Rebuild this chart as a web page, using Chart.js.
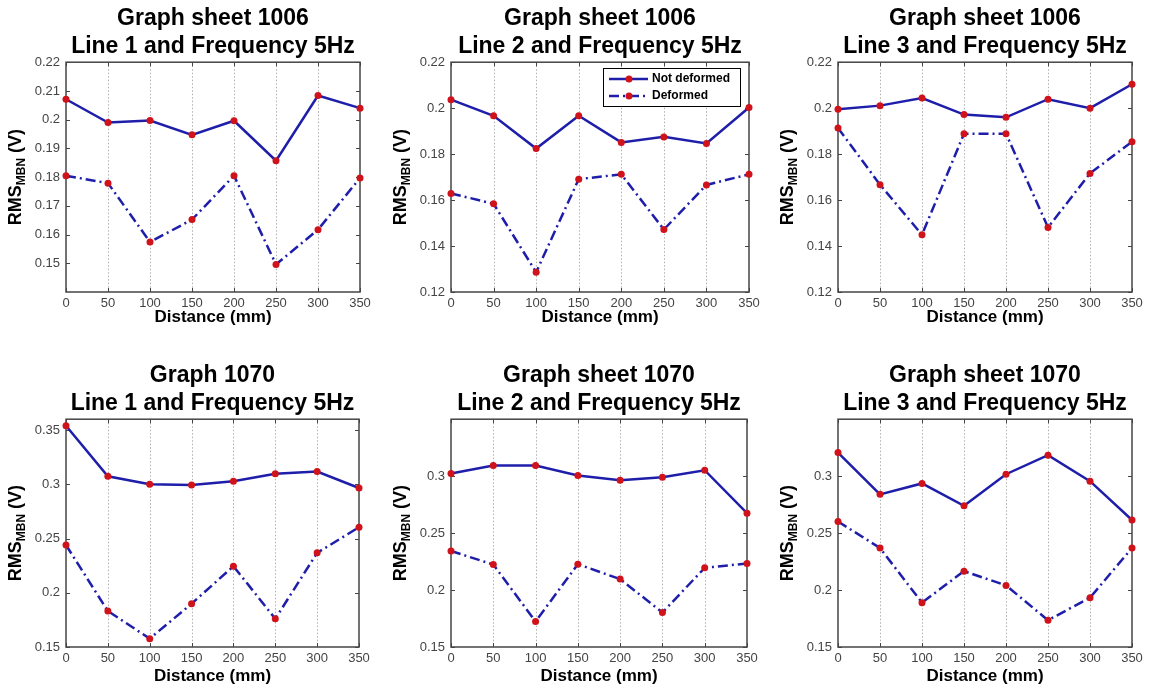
<!DOCTYPE html>
<html>
<head>
<meta charset="utf-8">
<script src="https://cdn.jsdelivr.net/npm/chart.js@4.4.1/dist/chart.umd.min.js"></script>
<style>
  html, body { margin: 0; padding: 0; background: #fff; }
  #pagina { position: relative; width: 1152px; height: 692px; overflow: hidden; }
  #pagina canvas { position: absolute; }
</style>
</head>
<body>
<div id="pagina"></div>
<script>
// dados (RMS do MBN em volts, por distancia em mm)
const distancias = [0, 50, 100, 150, 200, 250, 300, 350];

const s1006L1NaoDeformado = [0.2071, 0.1990, 0.1997, 0.1947, 0.1996, 0.1857, 0.2084, 0.2040];
const s1006L1Deformado    = [0.1805, 0.1779, 0.1574, 0.1652, 0.1805, 0.1496, 0.1617, 0.1797];
const s1006L2NaoDeformado = [0.2037, 0.1967, 0.1824, 0.1967, 0.1851, 0.1875, 0.1846, 0.2003];
const s1006L2Deformado    = [0.1629, 0.1584, 0.1286, 0.1691, 0.1712, 0.1472, 0.1666, 0.1712];
const s1006L3NaoDeformado = [0.1995, 0.2011, 0.2044, 0.1972, 0.1960, 0.2039, 0.2000, 0.2104];
const s1006L3Deformado    = [0.1914, 0.1667, 0.1449, 0.1889, 0.1889, 0.1481, 0.1716, 0.1854];

const s1070L1NaoDeformado = [0.3540, 0.3074, 0.3000, 0.2994, 0.3028, 0.3098, 0.3117, 0.2966];
const s1070L1Deformado    = [0.2440, 0.1831, 0.1577, 0.1899, 0.2245, 0.1760, 0.2368, 0.2604];
const s1070L2NaoDeformado = [0.3023, 0.3093, 0.3093, 0.3006, 0.2965, 0.2991, 0.3052, 0.2675];
const s1070L2Deformado    = [0.2343, 0.2224, 0.1724, 0.2227, 0.2096, 0.1803, 0.2195, 0.2233];
const s1070L3NaoDeformado = [0.3207, 0.2840, 0.2936, 0.2740, 0.3017, 0.3184, 0.2956, 0.2615];
const s1070L3Deformado    = [0.2602, 0.2369, 0.1889, 0.2166, 0.2041, 0.1735, 0.1933, 0.2369];

// marcas do eixo y
const ticksY1006L1 = [0.15, 0.16, 0.17, 0.18, 0.19, 0.2, 0.21, 0.22];
const ticksY1006   = [0.12, 0.14, 0.16, 0.18, 0.2, 0.22];
const ticksY1070L1 = [0.15, 0.2, 0.25, 0.3, 0.35];
const ticksY1070   = [0.15, 0.2, 0.25, 0.3];

const rotulos = ['Not deformed', 'Deformed'];
const tituloX = 'Distance (mm)';
const tituloY = ['RMS', 'MBN', ' (V)'];

const FONTE = '"Liberation Sans", Arial, Helvetica, sans-serif';
const AZUL = '#1e1eaa';
const VERMELHO = '#d0121b';

// cada linha de graficos tem seu proprio espacamento
const linhas = [
  { topo: 0,   altura: 335, tituloTopo: 5,  tituloBase: 2, alturaX: 43, tituloXBase: 7 },
  { topo: 335, altura: 357, tituloTopo: 27, tituloBase: 2, alturaX: 45, tituloXBase: 5 }
];

const paineis = [
  { linha: 0, esq: 0,   larg: 385, dir: 25, titulo: ['Graph sheet 1006', 'Line 1 and Frequency 5Hz'],
    min: 0.14, max: 0.22, ticks: ticksY1006L1, nd: s1006L1NaoDeformado, d: s1006L1Deformado },
  { linha: 0, esq: 385, larg: 387, dir: 23, titulo: ['Graph sheet 1006', 'Line 2 and Frequency 5Hz'],
    min: 0.12, max: 0.22, ticks: ticksY1006, nd: s1006L2NaoDeformado, d: s1006L2Deformado, legenda: true },
  { linha: 0, esq: 772, larg: 380, dir: 20, titulo: ['Graph sheet 1006', 'Line 3 and Frequency 5Hz'],
    min: 0.12, max: 0.22, ticks: ticksY1006, nd: s1006L3NaoDeformado, d: s1006L3Deformado },
  { linha: 1, esq: 0,   larg: 385, dir: 26, titulo: ['Graph 1070', 'Line 1 and Frequency 5Hz'],
    min: 0.15, max: 0.36, ticks: ticksY1070L1, nd: s1070L1NaoDeformado, d: s1070L1Deformado },
  { linha: 1, esq: 385, larg: 387, dir: 25, titulo: ['Graph sheet 1070', 'Line 2 and Frequency 5Hz'],
    min: 0.15, max: 0.35, ticks: ticksY1070, nd: s1070L2NaoDeformado, d: s1070L2Deformado },
  { linha: 1, esq: 772, larg: 380, dir: 20, titulo: ['Graph sheet 1070', 'Line 3 and Frequency 5Hz'],
    min: 0.15, max: 0.35, ticks: ticksY1070, nd: s1070L3NaoDeformado, d: s1070L3Deformado }
];

function pontos(valores) {
  return distancias.map((x, i) => ({ x: x, y: valores[i] }));
}

// caixa, grade pontilhada e marcas internas no estilo do matlab
const molduraMatlab = {
  id: 'molduraMatlab',
  beforeDatasetsDraw(chart) {
    const { ctx, chartArea: a, scales } = chart;
    ctx.save();
    ctx.strokeStyle = '#b0b0b0';
    ctx.lineWidth = 1;
    ctx.setLineDash([1.5, 2]);
    distancias.slice(1, -1).forEach(v => {
      const x = Math.round(scales.x.getPixelForValue(v)) + 0.5;
      ctx.beginPath(); ctx.moveTo(x, a.top); ctx.lineTo(x, a.bottom); ctx.stroke();
    });
    ctx.setLineDash([]);
    ctx.strokeStyle = '#454545';
    ctx.lineWidth = 1;
    scales.y.ticks.forEach(t => {
      const y = Math.round(scales.y.getPixelForValue(t.value)) + 0.5;
      ctx.beginPath();
      ctx.moveTo(a.left, y); ctx.lineTo(a.left + 4, y);
      ctx.moveTo(a.right, y); ctx.lineTo(a.right - 4, y);
      ctx.stroke();
    });
    scales.x.ticks.forEach(t => {
      const x = Math.round(scales.x.getPixelForValue(t.value)) + 0.5;
      ctx.beginPath();
      ctx.moveTo(x, a.bottom); ctx.lineTo(x, a.bottom - 4);
      ctx.moveTo(x, a.top); ctx.lineTo(x, a.top + 4);
      ctx.stroke();
    });
    ctx.lineWidth = 1.5;
    ctx.strokeRect(a.left, a.top, a.right - a.left, a.bottom - a.top);
    ctx.restore();
  },
  afterDatasetsDraw(chart, args, opts) {
    if (opts.legenda) desenhaLegenda(chart);
  },
  afterDraw(chart) {
    desenhaTituloY(chart);
  }
};
Chart.register(molduraMatlab);

function desenhaTituloY(chart) {
  const { ctx, chartArea: a } = chart;
  const grande = 'bold 18px ' + FONTE;
  const pequeno = 'bold 12px ' + FONTE;
  ctx.save();
  ctx.font = grande;
  const w1 = ctx.measureText(tituloY[0]).width;
  const w3 = ctx.measureText(tituloY[2]).width;
  ctx.font = pequeno;
  const w2 = ctx.measureText(tituloY[1]).width;
  ctx.translate(21, (a.top + a.bottom) / 2);
  ctx.rotate(-Math.PI / 2);
  ctx.fillStyle = '#000';
  ctx.textBaseline = 'alphabetic';
  ctx.textAlign = 'left';
  let x = -(w1 + w2 + w3) / 2;
  ctx.font = grande; ctx.fillText(tituloY[0], x, 0); x += w1;
  ctx.font = pequeno; ctx.fillText(tituloY[1], x, 4); x += w2;
  ctx.font = grande; ctx.fillText(tituloY[2], x, 0);
  ctx.restore();
}

function desenhaLegenda(chart) {
  const { ctx, chartArea: a } = chart;
  const larg = 137, alt = 38;
  const x0 = Math.round(a.right - 9 - larg), y0 = Math.round(a.top + 6);
  ctx.save();
  ctx.fillStyle = '#fff';
  ctx.fillRect(x0, y0, larg, alt);
  ctx.strokeStyle = '#000';
  ctx.lineWidth = 1;
  ctx.strokeRect(x0 + 0.5, y0 + 0.5, larg, alt);
  chart.data.datasets.forEach((ds, i) => {
    const y = y0 + 11 + i * 17;
    ctx.strokeStyle = ds.borderColor;
    ctx.lineWidth = ds.borderWidth;
    ctx.setLineDash(ds.borderDash || []);
    ctx.beginPath(); ctx.moveTo(x0 + 6, y); ctx.lineTo(x0 + 45, y); ctx.stroke();
    ctx.setLineDash([]);
    ctx.fillStyle = ds.pointBackgroundColor;
    ctx.beginPath(); ctx.arc(x0 + 26, y, ds.pointRadius, 0, Math.PI * 2); ctx.fill();
    ctx.fillStyle = '#000';
    ctx.font = 'bold 12px ' + FONTE;
    ctx.textBaseline = 'middle';
    ctx.fillText(ds.label, x0 + 49, y);
  });
  ctx.restore();
}

function criaGrafico(p) {
  const linha = linhas[p.linha];
  const canvas = document.createElement('canvas');
  canvas.width = p.larg;
  canvas.height = linha.altura;
  canvas.style.left = p.esq + 'px';
  canvas.style.top = linha.topo + 'px';
  canvas.style.width = p.larg + 'px';
  canvas.style.height = linha.altura + 'px';
  document.getElementById('pagina').appendChild(canvas);

  const serie = (label, valores, dash) => ({
    label: label,
    data: pontos(valores),
    borderColor: AZUL,
    borderWidth: 2.5,
    borderDash: dash,
    pointRadius: 3.5,
    pointBackgroundColor: VERMELHO,
    pointBorderWidth: 0,
    tension: 0,
    clip: false
  });

  new Chart(canvas.getContext('2d'), {
    type: 'line',
    data: {
      datasets: [
        serie(rotulos[0], p.nd, []),
        serie(rotulos[1], p.d, [10, 4, 2, 4])
      ]
    },
    options: {
      responsive: false,
      animation: false,
      devicePixelRatio: 1,
      layout: { padding: { left: 0, right: p.dir, top: 0, bottom: 0 } },
      plugins: {
        legend: { display: false },
        tooltip: { enabled: false },
        title: {
          display: true,
          fullSize: false,
          text: p.titulo,
          color: '#000',
          font: { family: FONTE, size: 23, weight: 'bold', lineHeight: 1.2 },
          padding: { top: linha.tituloTopo, bottom: linha.tituloBase }
        },
        molduraMatlab: { legenda: !!p.legenda }
      },
      scales: {
        x: {
          type: 'linear',
          min: 0,
          max: 350,
          afterBuildTicks: s => { s.ticks = distancias.map(v => ({ value: v })); },
          afterFit: s => { s.height = linha.alturaX; s.paddingLeft = 0; s.paddingRight = 0; },
          grid: { display: false, drawTicks: false },
          border: { display: false },
          ticks: {
            color: '#444',
            font: { family: FONTE, size: 13 },
            padding: 4,
            maxRotation: 0,
            autoSkip: false,
            callback: v => String(v)
          },
          title: {
            display: true,
            text: tituloX,
            color: '#000',
            font: { family: FONTE, size: 17, weight: 'bold', lineHeight: 1.2 },
            padding: { top: 0, bottom: linha.tituloXBase }
          }
        },
        y: {
          type: 'linear',
          min: p.min,
          max: p.max,
          afterBuildTicks: s => { s.ticks = p.ticks.map(v => ({ value: v })); },
          afterFit: s => { s.width = 66; s.paddingTop = 0; s.paddingBottom = 0; },
          grid: { display: false, drawTicks: false },
          border: { display: false },
          ticks: {
            color: '#444',
            font: { family: FONTE, size: 13 },
            padding: 6,
            autoSkip: false,
            callback: v => String(+v.toFixed(3))
          }
        }
      }
    }
  });
}

paineis.forEach(criaGrafico);
</script>
</body>
</html>
